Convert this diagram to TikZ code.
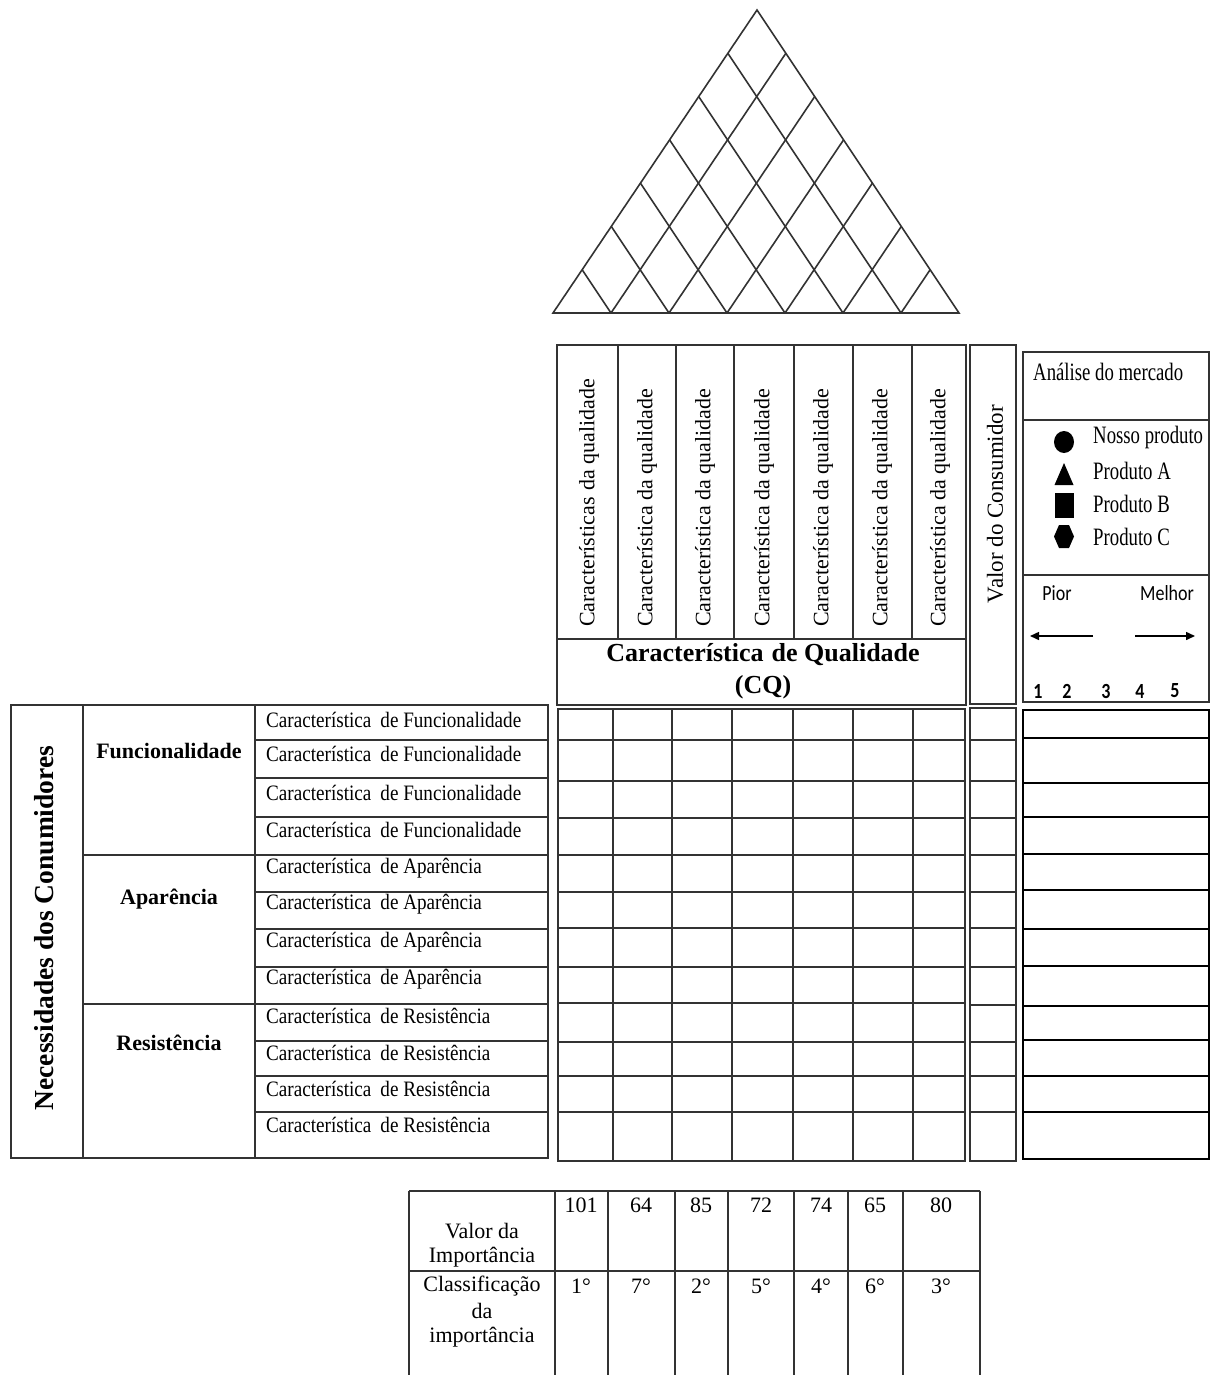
\documentclass[tikz,border=0pt]{standalone}
\usepackage{fontspec}
\setmainfont{Liberation Serif}
\newfontfamily\narrowserif[FakeStretch=0.87]{Liberation Serif}
\newfontfamily\condserif[FakeStretch=0.75]{Liberation Serif}
\newfontfamily\calib{Carlito}
\usetikzlibrary{calc,arrows.meta,shapes.geometric}

\tikzset{
  grid/.style={line width=1.6pt, draw=black!80},
  sharp/.style={line width=1.4pt, draw=black},
  txt/.style={inner sep=0pt, font=\fontsize{22}{26}\selectfont},
  rowtxt/.style={inner sep=0pt, anchor=west, font=\narrowserif\fontsize{22}{26}\selectfont},
  vtxt/.style={inner sep=0pt, anchor=west, rotate=90, font=\fontsize{22}{26}\selectfont},
  grp/.style={inner sep=0pt, font=\bfseries\fontsize{22}{26}\selectfont},
  legend/.style={inner sep=0pt, anchor=west, font=\condserif\fontsize{25}{30}\selectfont},
  scale label/.style={inner sep=0pt, yscale=1.2, font=\calib\fontsize{18}{22}\selectfont},
  scale num/.style={inner sep=0pt, yscale=1.2, font=\calib\bfseries\fontsize{18}{22}\selectfont},
  symfill/.style={fill=black, draw=none},
  scale arrow/.style={line width=1.5pt, -{Triangle[length=9pt,width=8pt]}}
}

\begin{document}
\begin{tikzpicture}[x=1pt,y=-1pt]
\useasboundingbox (0,0) rectangle (1213,1375);

% ---------- roof: correlation triangle ----------
\coordinate (apex) at (757,10);
\coordinate (bl) at (553,313);
\coordinate (br) at (959,313);
\draw[grid] (bl) -- (apex) -- (br) -- cycle;
\foreach \k in {1,...,6}{
  \draw[grid] ($(bl)!{\k/7}!(br)$) -- ($(br)!{(7-\k)/7}!(apex)$);
  \draw[grid] ($(bl)!{\k/7}!(br)$) -- ($(bl)!{\k/7}!(apex)$);
}

% ---------- quality characteristics header ----------
\draw[grid] (557,345) rectangle (966,705);
\draw[grid] (557,639) -- (966,639);
\foreach \x in {618,676,734,794,853,912} \draw[grid] (\x,345) -- (\x,639);
\node[vtxt] (cq1) at (589,627) {Características\hspace{7pt}da qualidade};
\node[vtxt] (cq2) at (647,627) {Característica da qualidade};
\node[vtxt] (cq3) at (705,627) {Característica da qualidade};
\node[vtxt] (cq4) at (764,627) {Característica da qualidade};
\node[vtxt] (cq5) at (823,627) {Característica da qualidade};
\node[vtxt] (cq6) at (882,627) {Característica da qualidade};
\node[vtxt] (cq7) at (940,627) {Característica da qualidade};
\node[inner sep=0pt, font=\bfseries\fontsize{26}{30}\selectfont] (cqtitle) at (763,655) {Característica\hspace{8pt}de Qualidade};
\node[inner sep=0pt, font=\bfseries\fontsize{26}{30}\selectfont] (cqabbr) at (763,687) {(CQ)};

% ---------- customer value header ----------
\draw[grid] (970,345) rectangle (1016,704);
\node[inner sep=0pt, rotate=90, font=\fontsize{23}{26}\selectfont] (valcons) at (995,504) {Valor do Consumidor};

% ---------- market analysis header ----------
\draw[grid] (1023,352) rectangle (1209,702);
\draw[grid] (1023,420) -- (1209,420);
\draw[grid] (1023,575) -- (1209,575);
\node[legend] (mkt) at (1033,372) {Análise do mercado};

\node[ellipse, symfill, minimum width=20pt, minimum height=22pt, inner sep=0pt] (symA) at (1064,442) {};
\fill[symfill] (1054.5,485) -- (1064,463) -- (1073.5,485) -- cycle;
\fill[symfill] (1054.5,493) rectangle (1073.5,518);
\fill[symfill] (1059,525) -- (1069,525) -- (1074,536.5) -- (1069,548) -- (1059,548) -- (1054,536.5) -- cycle;
\node[legend] (leg1) at (1093,437) {Nosso produto};
\node[legend] (leg2) at (1093,471) {Produto A};
\node[legend] (leg3) at (1093,504) {Produto B};
\node[legend] (leg4) at (1093,537) {Produto C};

\node[scale label] (pior) at (1057,593) {Pior};
\node[scale label] (melhor) at (1167,593) {Melhor};
\coordinate (worseA) at (1093,636);
\coordinate (worseB) at (1030,636);
\coordinate (betterA) at (1135,636);
\coordinate (betterB) at (1195,636);
\draw[scale arrow] (worseA) -- (worseB);
\draw[scale arrow] (betterA) -- (betterB);
\node[scale num] (n1) at (1038,691) {1};
\node[scale num] (n2) at (1067,691) {2};
\node[scale num] (n3) at (1106,691) {3};
\node[scale num] (n4) at (1140,691) {4};
\node[scale num] (n5) at (1175,691) {5};

% ---------- customer needs (left table) ----------
\draw[grid] (11,705) rectangle (548,1158);
\draw[line width=2.6pt, draw=black!80] (11,705) -- (11,1158);
\draw[grid] (83,705) -- (83,1158);
\draw[grid] (255,705) -- (255,1158);
\draw[grid] (83,855) -- (255,855);
\draw[grid] (83,1004) -- (255,1004);
\foreach \y in {740,778,817,855,892,929,967,1004,1041,1076,1112}
  \draw[grid] (255,\y) -- (548,\y);

\node[inner sep=0pt, rotate=90, font=\bfseries\fontsize{27.5}{30}\selectfont] (needs) at (44,928) {Necessidades dos Conumidores};
\node[grp] (gfun) at (169,751) {Funcionalidade};
\node[grp] (gapa) at (169,899) {Aparência};
\node[grp] (gres) at (169,1043) {Resistência};

\node[rowtxt] (r1)  at (266,720)  {Característica\hspace{9pt}de Funcionalidade};
\node[rowtxt] (r2)  at (266,754)  {Característica\hspace{9pt}de Funcionalidade};
\node[rowtxt] (r3)  at (266,793)  {Característica\hspace{9pt}de Funcionalidade};
\node[rowtxt] (r4)  at (266,830)  {Característica\hspace{9pt}de Funcionalidade};
\node[rowtxt] (r5)  at (266,868)  {Característica\hspace{9pt}de Aparência};
\node[rowtxt] (r6)  at (266,904)  {Característica\hspace{9pt}de Aparência};
\node[rowtxt] (r7)  at (266,942)  {Característica\hspace{9pt}de Aparência};
\node[rowtxt] (r8)  at (266,979)  {Característica\hspace{9pt}de Aparência};
\node[rowtxt] (r9)  at (266,1016) {Característica\hspace{9pt}de Resistência};
\node[rowtxt] (r10) at (266,1053) {Característica\hspace{9pt}de Resistência};
\node[rowtxt] (r11) at (266,1089) {Característica\hspace{9pt}de Resistência};
\node[rowtxt] (r12) at (266,1125) {Característica\hspace{9pt}de Resistência};

% ---------- relationship matrix ----------
\draw[grid] (558,709) rectangle (965,1161);
\foreach \x in {613,672,732,793,853,913} \draw[grid] (\x,709) -- (\x,1161);
\foreach \y in {740,781,818,855,892,928,967,1003,1042,1076,1112}
  \draw[grid] (558,\y) -- (965,\y);

% customer value column
\draw[grid] (970,708) rectangle (1016,1161);
\foreach \y in {740,781,818,855,892,928,967,1005,1042,1076,1112}
  \draw[grid] (970,\y) -- (1016,\y);

% market evaluation column
\draw[sharp] (1023,710) rectangle (1209,1159);
\foreach \y in {738,783,817,854,890,929,966,1006,1040,1076,1112}
  \draw[sharp] (1023,\y) -- (1209,\y);

% ---------- importance table ----------
\draw[grid] (409,1191) -- (980,1191);
\draw[grid] (409,1271) -- (980,1271);
\foreach \x in {409,555,608,675,728,794,848,903,980} \draw[grid] (\x,1191) -- (\x,1375);

\node[txt] (vi1) at (482,1231) {Valor da};
\node[txt] (vi2) at (482,1257) {Importância};
\node[txt] (ci1) at (482,1286) {Classificação};
\node[txt] (ci2) at (482,1311) {da};
\node[txt] (ci3) at (482,1337) {importância};

\node[txt] (v1) at (581,1205) {101};
\node[txt] (v2) at (641,1205) {64};
\node[txt] (v3) at (701,1205) {85};
\node[txt] (v4) at (761,1205) {72};
\node[txt] (v5) at (821,1205) {74};
\node[txt] (v6) at (875,1205) {65};
\node[txt] (v7) at (941,1205) {80};

\node[txt] (o1) at (581,1286) {1°};
\node[txt] (o2) at (641,1286) {7°};
\node[txt] (o3) at (701,1286) {2°};
\node[txt] (o4) at (761,1286) {5°};
\node[txt] (o5) at (821,1286) {4°};
\node[txt] (o6) at (875,1286) {6°};
\node[txt] (o7) at (941,1286) {3°};
\end{tikzpicture}
\end{document}
